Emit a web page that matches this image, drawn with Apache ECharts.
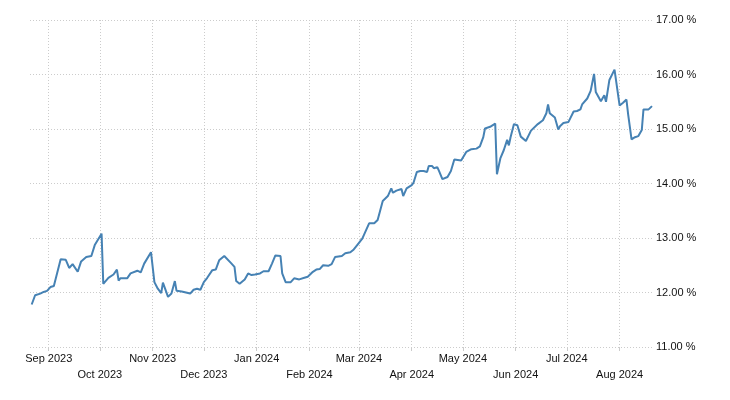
<!DOCTYPE html>
<html>
<head>
<meta charset="utf-8">
<script src="https://cdn.jsdelivr.net/npm/echarts@6/dist/echarts.min.js"></script>
<style>html,body{margin:0;padding:0;background:#fff;}#c{width:730px;height:400px;}</style>
</head>
<body>
<div id="c"></div>
<script>
const dates = ['2023-08-22','2023-08-24','2023-08-27','2023-08-29','2023-08-30','2023-08-31','2023-09-02','2023-09-04','2023-09-08','2023-09-11','2023-09-13','2023-09-15','2023-09-18','2023-09-20','2023-09-23','2023-09-26','2023-09-28','2023-10-02','2023-10-03','2023-10-06','2023-10-09','2023-10-11','2023-10-12','2023-10-13','2023-10-17','2023-10-19','2023-10-23','2023-10-24','2023-10-25','2023-10-27','2023-10-31','2023-11-02','2023-11-04','2023-11-06','2023-11-07','2023-11-08','2023-11-10','2023-11-12','2023-11-14','2023-11-15','2023-11-18','2023-11-23','2023-11-25','2023-11-27','2023-11-29','2023-12-01','2023-12-03','2023-12-06','2023-12-08','2023-12-10','2023-12-13','2023-12-14','2023-12-17','2023-12-19','2023-12-20','2023-12-22','2023-12-25','2023-12-27','2023-12-29','2023-12-31','2024-01-03','2024-01-04','2024-01-05','2024-01-08','2024-01-10','2024-01-12','2024-01-15','2024-01-16','2024-01-18','2024-01-21','2024-01-23','2024-01-24','2024-01-26','2024-01-29','2024-01-31','2024-02-03','2024-02-05','2024-02-07','2024-02-09','2024-02-12','2024-02-14','2024-02-16','2024-02-20','2024-02-22','2024-02-25','2024-02-27','2024-02-29','2024-03-03','2024-03-07','2024-03-10','2024-03-12','2024-03-15','2024-03-18','2024-03-20','2024-03-21','2024-03-23','2024-03-26','2024-03-27','2024-03-29','2024-04-01','2024-04-02','2024-04-04','2024-04-06','2024-04-08','2024-04-10','2024-04-11','2024-04-13','2024-04-14','2024-04-16','2024-04-17','2024-04-19','2024-04-22','2024-04-24','2024-04-26','2024-04-30','2024-05-03','2024-05-06','2024-05-07','2024-05-09','2024-05-11','2024-05-13','2024-05-14','2024-05-15','2024-05-17','2024-05-20','2024-05-21','2024-05-22','2024-05-23','2024-05-25','2024-05-27','2024-05-28','2024-05-29','2024-05-31','2024-06-02','2024-06-03','2024-06-04','2024-06-07','2024-06-10','2024-06-11','2024-06-14','2024-06-17','2024-06-18','2024-06-19','2024-06-20','2024-06-21','2024-06-24','2024-06-26','2024-06-27','2024-06-29','2024-07-02','2024-07-03','2024-07-05','2024-07-07','2024-07-09','2024-07-10','2024-07-11','2024-07-13','2024-07-15','2024-07-17','2024-07-18','2024-07-19','2024-07-21','2024-07-23','2024-07-24','2024-07-26','2024-07-29','2024-08-01','2024-08-03','2024-08-05','2024-08-06','2024-08-08','2024-08-10','2024-08-12','2024-08-14','2024-08-15','2024-08-18','2024-08-20'];
const values = [11.78,11.95,11.98,12.01,12.04,12.03,12.10,12.12,12.61,12.60,12.45,12.52,12.38,12.57,12.65,12.67,12.87,13.08,12.16,12.27,12.33,12.42,12.22,12.26,12.26,12.35,12.40,12.41,12.37,12.53,12.74,12.19,12.07,11.99,12.18,12.15,11.92,11.98,12.21,12.03,12.02,11.98,12.05,12.07,12.05,12.19,12.27,12.41,12.42,12.59,12.67,12.68,12.54,12.47,12.21,12.16,12.24,12.35,12.32,12.33,12.35,12.32,12.39,12.39,12.53,12.68,12.67,12.35,12.19,12.19,12.26,12.23,12.24,12.27,12.29,12.38,12.42,12.43,12.50,12.49,12.52,12.65,12.67,12.72,12.74,12.79,12.87,12.99,13.27,13.27,13.33,13.68,13.77,13.91,13.83,13.87,13.90,13.77,13.91,13.97,14.01,14.21,14.23,14.23,14.21,14.32,14.32,14.28,14.30,14.23,14.08,14.12,14.23,14.44,14.42,14.58,14.63,14.66,14.64,14.68,14.85,15.01,14.99,15.04,15.10,14.17,14.18,14.46,14.61,14.80,14.70,14.85,15.09,15.07,15.06,14.86,14.78,14.97,14.98,15.09,15.16,15.19,15.29,15.45,15.29,15.21,14.99,15.05,15.11,15.13,15.12,15.32,15.33,15.36,15.45,15.44,15.56,15.70,16.01,15.68,15.65,15.51,15.62,15.50,15.90,16.09,15.43,15.48,15.54,15.27,14.81,14.85,14.87,14.98,15.36,15.36,15.42];
const monthTicks = ['2023-09-01','2023-10-01','2023-11-01','2023-12-01','2024-01-01','2024-02-01','2024-03-01','2024-04-01','2024-05-01','2024-06-01','2024-07-01','2024-08-01'];
const monthLabels = ['Sep 2023','Oct 2023','Nov 2023','Dec 2023','Jan 2024','Feb 2024','Mar 2024','Apr 2024','May 2024','Jun 2024','Jul 2024','Aug 2024'];
const xStart = '2023-08-21', xEnd = '2024-08-20';
const yMin = 11, yMax = 17, yStep = 1;

function toTime(s) { const p = s.split('-').map(Number); return Date.UTC(p[0], p[1] - 1, p[2]); }
const tickTimes = monthTicks.map(toTime);
const chart = echarts.init(document.getElementById('c'), null, {renderer: 'canvas'});
const font = '"Liberation Sans", Arial, sans-serif';
chart.setOption({
  animation: false,
  grid: {left: 30, right: 78, top: 20, bottom: 53},
  xAxis: {
    type: 'value',
    min: toTime(xStart),
    max: toTime(xEnd),
    axisLine: {show: false},
    axisTick: {show: true, length: 4, customValues: tickTimes, lineStyle: {color: '#cccccc'}},
    splitLine: {show: true, lineStyle: {color: '#cccccc', type: [1, 2], width: 1}},
    axisLabel: {
      customValues: tickTimes,
      margin: 4,
      lineHeight: 16,
      fontSize: 11,
      fontFamily: font,
      color: '#111',
      hideOverlap: false,
      showMinLabel: true,
      showMaxLabel: true,
      formatter: function (v) {
        let idx = 0;
        tickTimes.forEach((t, k) => { if (Math.abs(t - v) < Math.abs(tickTimes[idx] - v)) idx = k; });
        return (idx % 2 === 1 ? '\n' : '') + monthLabels[idx];
      }
    }
  },
  yAxis: {
    type: 'value',
    position: 'right',
    min: yMin, max: yMax, interval: yStep,
    axisLine: {show: false},
    axisTick: {show: false},
    splitLine: {show: true, lineStyle: {color: '#cccccc', type: [1, 2], width: 1}},
    axisLabel: {
      margin: 4,
      fontSize: 11,
      fontFamily: font,
      color: '#111',
      formatter: v => v.toFixed(2) + ' %'
    }
  },
  series: [{
    type: 'line',
    data: dates.map((d, i) => [toTime(d), values[i]]),
    showSymbol: false,
    symbol: 'none',
    lineStyle: {color: '#4682b4', width: 2},
    itemStyle: {color: '#4682b4'}
  }]
});
</script>
</body>
</html>
